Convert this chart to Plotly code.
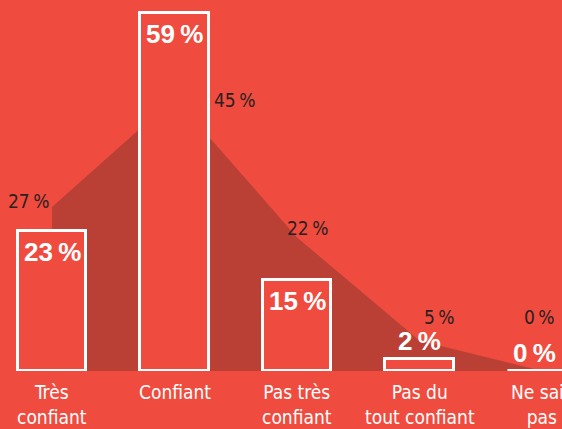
import plotly.graph_objects as go

# survey answers
categories = ["Très<br>confiant", "Confiant", "Pas très<br>confiant", "Pas du<br>tout confiant", "Ne sais<br>pas"]
current_pct = [23, 59, 15, 2, 0]
previous_pct = [27, 45, 22, 5, 0]

BG = "#EF4C3F"
DARK = "#BA4036"
NARROW = "DejaVu Sans Condensed, Liberation Sans Narrow, sans-serif"
BOLD = "Liberation Sans, Arial, sans-serif"

idx = list(range(len(categories)))
XR = [-0.425, 4.163]
YR = [0, 61.1]

fig = go.Figure()

# previous wave, as a dark area behind the bars
fig.add_trace(go.Scatter(
    x=idx, y=previous_pct,
    mode="lines", line=dict(width=0, color=DARK),
    fill="tozeroy", fillcolor=DARK,
    hoverinfo="skip", showlegend=False,
))

# bars on overlaid axes so they sit on top of the area
fig.add_trace(go.Bar(
    x=idx, y=current_pct,
    xaxis="x2", yaxis="y2",
    width=0.56,
    marker=dict(color=BG, line=dict(color="white", width=3)),
    cliponaxis=False,
    hoverinfo="skip",
    showlegend=False,
))

# value labels: inside the top of tall bars, above the short ones
last = len(current_pct) - 1
for i, v in enumerate(current_pct):
    inside = v >= 10
    fig.add_annotation(
        x=i, y=v, xref="x2", yref="y2", text=f"<b>{v}\u202f%</b>", showarrow=False,
        yanchor="middle", yshift=-21 if inside else 18,
        xshift=-8 if i == last else 0,
        font=dict(family=BOLD, size=26, color="white"),
    )

# labels for the previous wave
shifts = [(-24, 6), (60, -2), (10, 9), (20, 24), (-3, 54)]
for i, (v, (dx, dy)) in enumerate(zip(previous_pct, shifts)):
    fig.add_annotation(
        x=i, y=v, text=f"{v}\u202f%", showarrow=False,
        xshift=dx, yshift=dy,
        font=dict(family=NARROW, size=19, color="#2a2020"),
    )

# category labels under the baseline
for i, c in enumerate(categories):
    fig.add_annotation(
        x=i, y=0, text=c, showarrow=False,
        yanchor="top", yshift=-8,
        font=dict(family=NARROW, size=19, color="white"),
    )

fig.update_layout(
    width=562, height=429,
    margin=dict(l=0, r=0, t=0, b=58),
    paper_bgcolor=BG, plot_bgcolor=BG,
    bargap=0,
    xaxis=dict(range=XR, visible=False),
    yaxis=dict(range=YR, visible=False),
    xaxis2=dict(range=XR, overlaying="x", visible=False),
    yaxis2=dict(range=YR, overlaying="y", visible=False),
)

fig.write_html(
    "out.html",
    config={"displayModeBar": False},
    post_script="document.body.style.margin='0';",
)
